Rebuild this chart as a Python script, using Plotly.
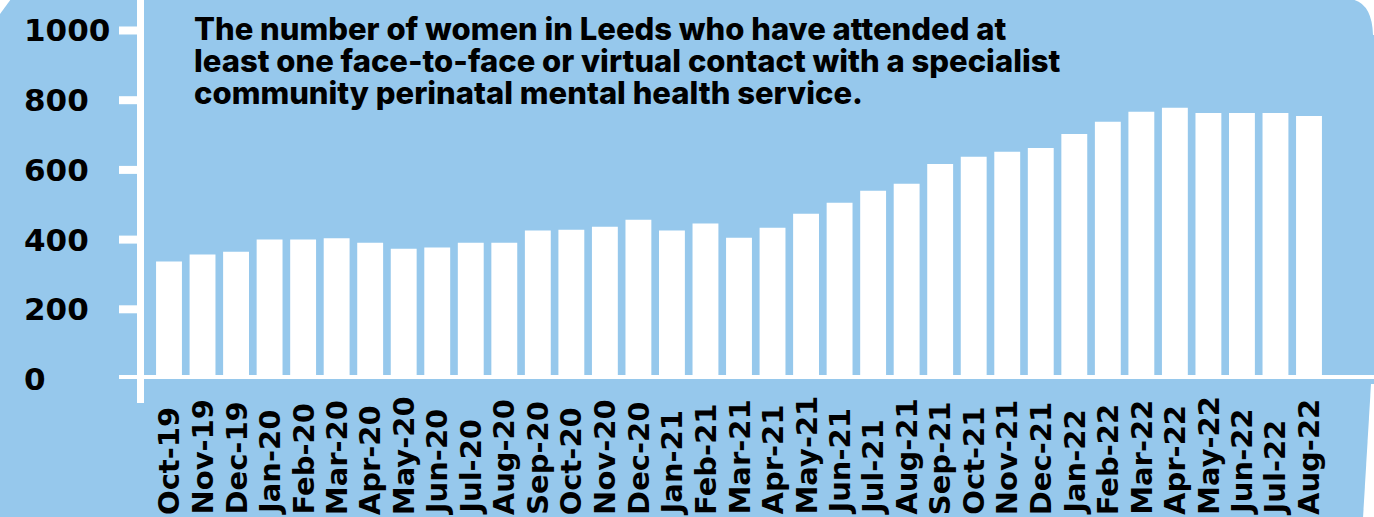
import plotly.graph_objects as go

# ---------------- data ----------------
months = ["Oct-19", "Nov-19", "Dec-19", "Jan-20", "Feb-20", "Mar-20", "Apr-20", "May-20",
          "Jun-20", "Jul-20", "Aug-20", "Sep-20", "Oct-20", "Nov-20", "Dec-20", "Jan-21",
          "Feb-21", "Mar-21", "Apr-21", "May-21", "Jun-21", "Jul-21", "Aug-21", "Sep-21",
          "Oct-21", "Nov-21", "Dec-21", "Jan-22", "Feb-22", "Mar-22", "Apr-22", "May-22",
          "Jun-22", "Jul-22", "Aug-22"]
women = [337, 357, 365, 400, 400, 404, 391, 374, 377, 391, 391, 426, 428, 437, 457, 426,
         446, 405, 434, 474, 506, 540, 560, 617, 638, 652, 663, 703, 738, 767, 778, 763,
         763, 763, 755]
y_ticks = [0, 200, 400, 600, 800, 1000]
title_lines = ["The number of women in Leeds who have attended at",
               "least one face-to-face or virtual contact with a specialist",
               "community perinatal mental health service."]

# ---------------- styling / layout geometry ----------------
W, H = 1374, 517
ML, MR, MT, MB = 150, 46, 0, 138
PW, PH = W - ML - MR, H - MT - MB
Y_MAX = 1087.5
BG = "#96C8EC"
FONT_TITLE = "Inter, Roboto, sans-serif"
FONT_AX = "DejaVu Sans, sans-serif"


def px_x(p):
    return (p - ML) / PW


def px_y(p):
    return (H - MB - p) / PH


fig = go.Figure()
fig.add_trace(go.Bar(x=months, y=women, marker=dict(color="white", line=dict(width=0)),
                     hoverinfo="x+y"))

shapes = []
# y axis line (extends above and below the plot)
shapes.append(dict(type="line", xref="paper", yref="paper", x0=px_x(140.5), x1=px_x(140.5),
                   y0=px_y(0), y1=px_y(403), line=dict(color="white", width=7)))
# x axis line at y = 0
shapes.append(dict(type="line", xref="paper", yref="y", x0=px_x(119), x1=px_x(W + 5),
                   y0=y_ticks[0], y1=y_ticks[0], line=dict(color="white", width=8)))
# y tick marks
for t in y_ticks:
    shapes.append(dict(type="line", xref="paper", yref="y", x0=px_x(119), x1=px_x(140),
                       y0=t, y1=t, line=dict(color="white", width=8)))
# rounded top-right corner / edges of the blue card
shapes.append(dict(type="path", xref="paper", yref="paper", layer="above",
                   path=f"M {px_x(1350)},{px_y(-1)} Q {px_x(1372)},{px_y(2)} {px_x(1373)},{px_y(35)} "
                        f"L {px_x(1375)},{px_y(35)} L {px_x(1375)},{px_y(-1)} Z",
                   fillcolor="white", line=dict(width=0)))
shapes.append(dict(type="path", xref="paper", yref="paper", layer="above",
                   path=f"M {px_x(0)},{px_y(14)} L {px_x(0)},{px_y(-1)} L {px_x(11)},{px_y(-1)} Z",
                   fillcolor="white", line=dict(width=0)))
# ragged right edge below the axis line
shapes.append(dict(type="path", xref="paper", yref="paper", layer="above",
                   path=f"M {px_x(1371)},{px_y(384)} L {px_x(1363)},{px_y(518)} "
                        f"L {px_x(1375)},{px_y(518)} L {px_x(1375)},{px_y(384)} Z",
                   fillcolor="white", line=dict(width=0)))

annotations = []
# y tick labels (left aligned)
for t in y_ticks:
    annotations.append(dict(x=px_x(22), xref="paper", y=t, yref="y", text=str(t),
                            showarrow=False, xanchor="left", yanchor="middle",
                            font=dict(family=FONT_AX, size=31, color="black", weight="bold")))
# x tick labels (rotated, bottom aligned)
for m in months:
    annotations.append(dict(x=m, xref="x", y=px_y(517), yref="paper", text=m,
                            showarrow=False, xanchor="center", yanchor="bottom", textangle=-90,
                            font=dict(family=FONT_AX, size=29, color="black", weight="bold")))
# title lines
for i, line in enumerate(title_lines):
    annotations.append(dict(x=px_x(192), xref="paper", y=px_y(28.5 + 32 * i), yref="paper",
                            text=line, showarrow=False, xanchor="left", yanchor="middle",
                            font=dict(family=FONT_TITLE, size=31, color="black", weight=800)))

fig.update_layout(
    width=W, height=H,
    margin=dict(l=ML, r=MR, t=MT, b=MB, pad=0),
    paper_bgcolor=BG, plot_bgcolor=BG,
    bargap=0.228,
    showlegend=False,
    xaxis=dict(type="category", showticklabels=False, showgrid=False, zeroline=False,
               showline=False, ticks=""),
    yaxis=dict(range=[0, Y_MAX], showticklabels=False, showgrid=False, zeroline=False,
               showline=False, ticks=""),
    shapes=shapes,
    annotations=annotations,
)

fig.write_html("out.html", config={"displayModeBar": False},
               post_script="document.body.style.margin='0';document.body.style.padding='0';")
